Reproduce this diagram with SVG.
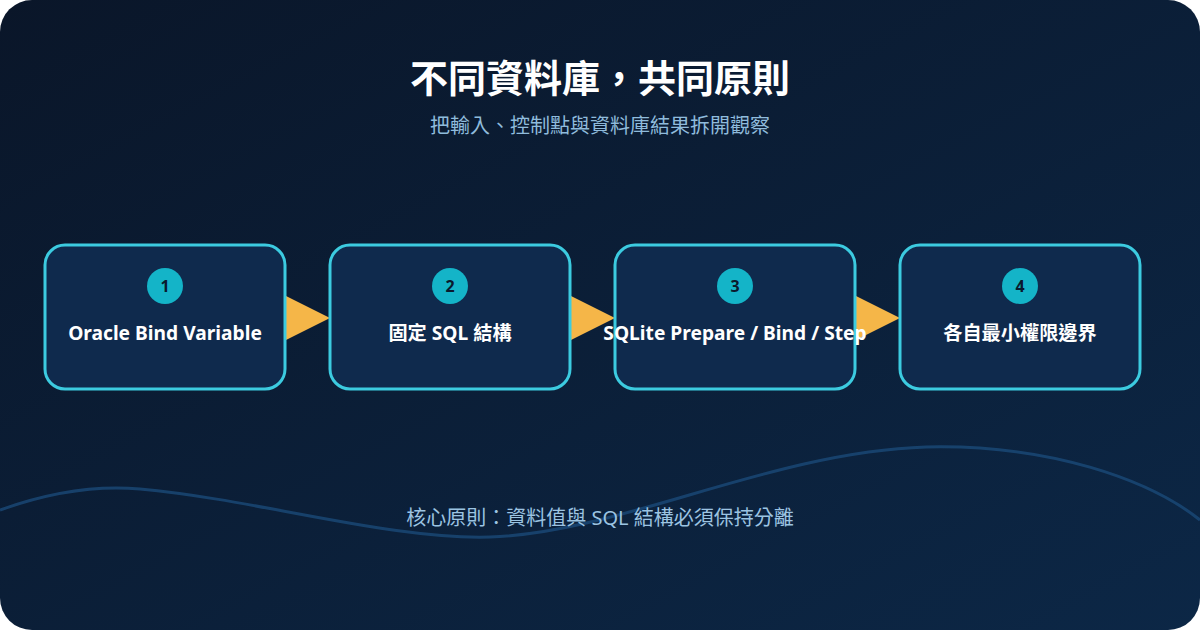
<svg xmlns="http://www.w3.org/2000/svg" width="1200" height="630" viewBox="0 0 1200 630">
<defs>
<linearGradient id="bg" x1="0" y1="0" x2="1" y2="1">
<stop offset="0" stop-color="#0a1629"/>
<stop offset="1" stop-color="#0c2746"/>
</linearGradient>
<style>
.t{font-family:"Noto Sans","Noto Sans CJK TC",sans-serif;text-anchor:middle}
.box{fill:#0f2a4d;stroke:#3ccbe0;stroke-width:3}
.num{fill:#14b4c8}
.n{font-size:16px;font-weight:700;fill:#0a1a2e}
.lbl{font-size:19.2px;font-weight:700;fill:#ffffff}
.arr{fill:#f5b648}
</style>
</defs>
<rect width="1200" height="630" fill="#ffffff"/>
<rect width="1200" height="630" rx="32" fill="url(#bg)"/>
<path d="M0 510 C50 492 95 485 140 489 C260 500 390 540 490 537 C620 533 770 452 926 447 C1050 444 1150 480 1200 520" fill="none" stroke="#1a4a78" stroke-width="3" opacity="0.8"/>
<text class="t" x="600" y="92" font-size="38" font-weight="700" fill="#ffffff">不同資料庫，共同原則</text>
<text class="t" x="600" y="133" font-size="20" fill="#8fbbdc">把輸入、控制點與資料庫結果拆開觀察</text>
<g id="connectors">
<polygon class="arr" points="284,295 330,318 284,341"/>
<polygon class="arr" points="569,295 615,318 569,341"/>
<polygon class="arr" points="854,295 900,318 854,341"/>
</g>
<g id="node1">
<rect class="box" x="45" y="245" width="240" height="144" rx="20"/>
<circle class="num" cx="165" cy="286" r="18"/>
<text class="t n" x="165" y="292">1</text>
<text class="t lbl" x="165" y="340">Oracle Bind Variable</text>
</g>
<g id="node2">
<rect class="box" x="330" y="245" width="240" height="144" rx="20"/>
<circle class="num" cx="450" cy="286" r="18"/>
<text class="t n" x="450" y="292">2</text>
<text class="t lbl" x="450" y="340">固定 SQL 結構</text>
</g>
<g id="node3">
<rect class="box" x="615" y="245" width="240" height="144" rx="20"/>
<circle class="num" cx="735" cy="286" r="18"/>
<text class="t n" x="735" y="292">3</text>
<text class="t lbl" x="735" y="340">SQLite Prepare / Bind / Step</text>
</g>
<g id="node4">
<rect class="box" x="900" y="245" width="240" height="144" rx="20"/>
<circle class="num" cx="1020" cy="286" r="18"/>
<text class="t n" x="1020" y="292">4</text>
<text class="t lbl" x="1020" y="340">各自最小權限邊界</text>
</g>
<text class="t" x="600" y="525" font-size="20" fill="#9cc4e2">核心原則：資料值與 SQL 結構必須保持分離</text>
</svg>
